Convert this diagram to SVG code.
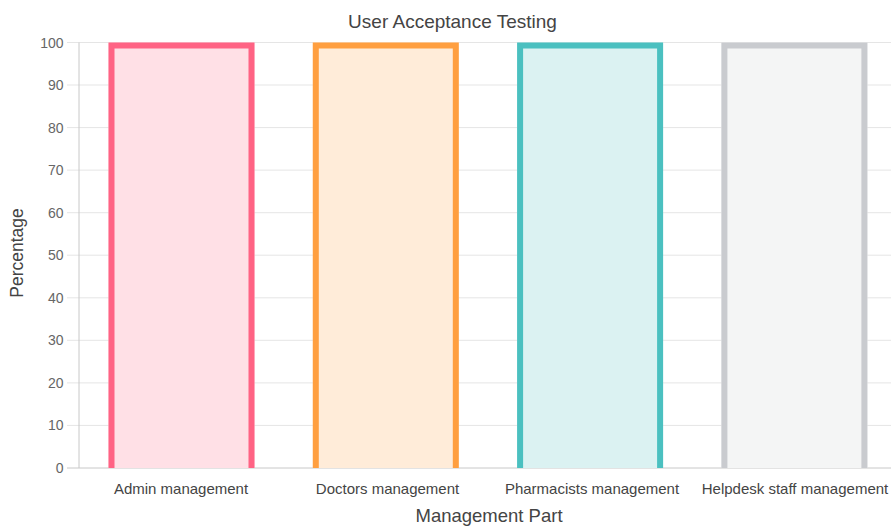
<svg xmlns="http://www.w3.org/2000/svg" width="891" height="528" viewBox="0 0 891 528">
<style>
.grid{stroke:#e5e5e5;stroke-width:1}
.axis{stroke:#c8c8c8;stroke-width:1}
.tick{font-family:"Liberation Sans",Arial,sans-serif;font-size:14px;fill:#666;text-anchor:end}
.xl{font-family:"Liberation Sans",Arial,sans-serif;font-size:15px;fill:#444;text-anchor:middle}
.title{font-family:"Liberation Sans",Arial,sans-serif;font-size:19px;fill:#444;text-anchor:middle}
.at{font-family:"Liberation Sans",Arial,sans-serif;font-size:18px;fill:#444;text-anchor:middle}
.bar{stroke-width:6}
</style>
<rect width="891" height="528" fill="#fff"/>
<text class="title" x="452.5" y="28">User Acceptance Testing</text>
<g id="grid">
<line class="grid" x1="67" y1="42.5" x2="891" y2="42.5"/>
<line class="grid" x1="67" y1="85" x2="891" y2="85"/>
<line class="grid" x1="67" y1="127.6" x2="891" y2="127.6"/>
<line class="grid" x1="67" y1="170.1" x2="891" y2="170.1"/>
<line class="grid" x1="67" y1="212.7" x2="891" y2="212.7"/>
<line class="grid" x1="67" y1="255.2" x2="891" y2="255.2"/>
<line class="grid" x1="67" y1="297.8" x2="891" y2="297.8"/>
<line class="grid" x1="67" y1="340.3" x2="891" y2="340.3"/>
<line class="grid" x1="67" y1="382.9" x2="891" y2="382.9"/>
<line class="grid" x1="67" y1="425.4" x2="891" y2="425.4"/>
<line class="axis" x1="67" y1="468" x2="891" y2="468"/>
<line class="axis" x1="79" y1="42.5" x2="79" y2="468"/>
</g>
<g id="yticks">
<text class="tick" x="63.5" y="47.5">100</text>
<text class="tick" x="63.5" y="90">90</text>
<text class="tick" x="63.5" y="132.6">80</text>
<text class="tick" x="63.5" y="175.1">70</text>
<text class="tick" x="63.5" y="217.7">60</text>
<text class="tick" x="63.5" y="260.2">50</text>
<text class="tick" x="63.5" y="302.8">40</text>
<text class="tick" x="63.5" y="345.3">30</text>
<text class="tick" x="63.5" y="387.9">20</text>
<text class="tick" x="63.5" y="430.4">10</text>
<text class="tick" x="63.5" y="473">0</text>
</g>
<g id="bar-admin">
<rect x="108.5" y="42.5" width="146" height="425.5" fill="#ffe0e6"/>
<path class="bar" d="M111.5 468 V45.5 H251.5 V468" fill="none" stroke="#ff6384"/>
</g>
<g id="bar-doctors">
<rect x="312.8" y="42.5" width="146" height="425.5" fill="#ffecd9"/>
<path class="bar" d="M315.8 468 V45.5 H455.8 V468" fill="none" stroke="#ff9f40"/>
</g>
<g id="bar-pharmacists">
<rect x="517.1" y="42.5" width="146" height="425.5" fill="#dbf2f2"/>
<path class="bar" d="M520.1 468 V45.5 H660.1 V468" fill="none" stroke="#4bc0c0"/>
</g>
<g id="bar-helpdesk">
<rect x="721.4" y="42.5" width="146" height="425.5" fill="#f4f5f5"/>
<path class="bar" d="M724.4 468 V45.5 H864.4 V468" fill="none" stroke="#c9cbcf"/>
</g>
<g id="xlabels">
<text class="xl" x="181" y="494">Admin management</text>
<text class="xl" x="387.5" y="494">Doctors management</text>
<text class="xl" x="592" y="494">Pharmacists management</text>
<text class="xl" x="795" y="494">Helpdesk staff management</text>
</g>
<text class="at" x="489" y="522" style="font-size:18.5px">Management Part</text>
<text class="at" transform="translate(23 253) rotate(-90)" style="font-size:17.5px">Percentage</text>
</svg>
